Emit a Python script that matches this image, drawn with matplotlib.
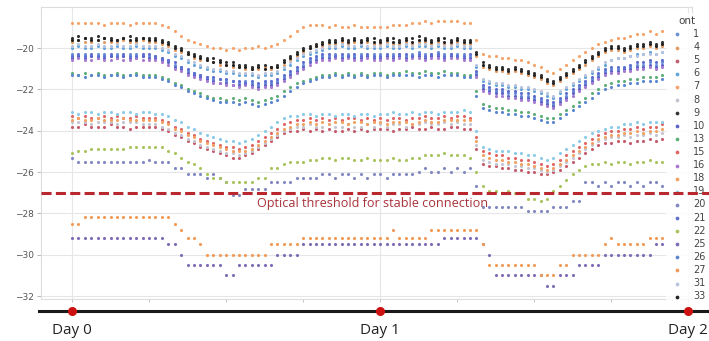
import numpy as np
import matplotlib
matplotlib.use("Agg")
import matplotlib.pyplot as plt
from matplotlib.lines import Line2D
import matplotlib.transforms as mtransforms

# ---------------- data (dBm, sampled every 30 min from Day 0) ----------------
HOURS = np.arange(0, 46.5, 0.5)

ont_1 = [-20.3,-20.4,-20.3,-20.4,-20.3,-20.3,-20.4,-20.3,-20.4,-20.3,-20.3,-20.4,
         -20.4,-20.4,-20.5,-20.6,-20.8,-20.9,-21.1,-21.2,-21.3,-21.4,-21.5,-21.5,
         -21.6,-21.6,-21.7,-21.6,-21.7,-21.8,-21.7,-21.7,-21.6,-21.4,-21.2,-21.0,
         -20.8,-20.6,-20.5,-20.4,-20.4,-20.3,-20.4,-20.3,-20.4,-20.3,-20.4,-20.3,
         -20.3,-20.4,-20.3,-20.3,-20.4,-20.3,-20.2,-20.3,-20.3,-20.2,-20.3,-20.3,
         -20.3,-20.3,-20.4,-21.2,-21.9,-22.0,-22.1,-22.1,-22.2,-22.2,-22.3,-22.3,
         -22.4,-22.5,-22.6,-22.7,-22.5,-22.3,-22.1,-21.9,-21.7,-21.5,-21.3,-21.1,
         -21.0,-21.0,-21.0,-20.9,-20.8,-20.8,-20.7,-20.8,-20.7]
ont_4 = [-19.7,-19.6,-19.7,-19.7,-19.6,-19.7,-19.7,-19.7,-19.6,-19.7,-19.7,-19.6,
         -19.7,-19.7,-19.8,-19.9,-20.1,-20.2,-20.3,-20.5,-20.6,-20.6,-20.7,-20.8,
         -20.8,-20.9,-20.9,-21.0,-21.0,-21.0,-20.9,-21.0,-20.9,-20.8,-20.6,-20.4,
         -20.2,-20.0,-19.9,-19.9,-19.8,-19.8,-19.7,-19.8,-19.7,-19.8,-19.7,-19.8,
         -19.8,-19.7,-19.8,-19.8,-19.7,-19.8,-19.7,-19.7,-19.8,-19.7,-19.8,-19.8,
         -19.7,-19.8,-19.8,-20.4,-20.9,-21.0,-21.1,-21.1,-21.2,-21.1,-21.2,-21.3,
         -21.4,-21.5,-21.7,-21.8,-21.6,-21.4,-21.2,-21.0,-20.8,-20.6,-20.4,-20.2,
         -20.1,-20.1,-20.2,-20.1,-20.0,-20.0,-19.9,-20.0,-19.9]
ont_5 = [-23.8,-23.8,-23.7,-23.8,-23.8,-23.8,-23.7,-23.8,-23.8,-23.9,-23.8,-23.8,
         -23.8,-23.8,-23.9,-24.0,-24.2,-24.3,-24.5,-24.6,-24.8,-24.9,-25.0,-25.1,
         -25.2,-25.3,-25.3,-25.2,-25.1,-24.9,-24.7,-24.5,-24.3,-24.1,-24.0,-24.0,
         -23.9,-24.0,-23.9,-24.0,-23.9,-24.0,-24.0,-23.9,-24.0,-23.9,-24.0,-23.9,
         -23.9,-23.9,-24.0,-23.9,-23.9,-23.8,-23.9,-23.9,-23.8,-23.9,-23.9,-23.8,
         -23.8,-23.9,-23.9,-24.9,-25.6,-25.7,-25.7,-25.8,-25.8,-25.9,-25.9,-26.0,
         -26.0,-26.1,-26.1,-26.0,-25.9,-25.7,-25.5,-25.3,-25.1,-24.9,-24.7,-24.6,
         -24.6,-24.5,-24.5,-24.6,-24.5,-24.5,-24.4,-24.5,-24.4]
ont_6 = [-20.0,-19.9,-20.0,-20.0,-19.9,-20.0,-20.0,-19.9,-20.0,-20.0,-19.9,-20.0,
         -20.0,-20.0,-20.1,-20.2,-20.4,-20.5,-20.7,-20.8,-20.9,-21.0,-21.1,-21.1,
         -21.2,-21.2,-21.3,-21.3,-21.3,-21.4,-21.3,-21.3,-21.2,-21.0,-20.8,-20.6,
         -20.4,-20.3,-20.2,-20.1,-20.0,-20.0,-19.9,-20.0,-20.0,-19.9,-20.0,-20.0,
         -20.0,-19.9,-20.0,-20.0,-19.9,-20.0,-19.9,-19.9,-20.0,-19.9,-20.0,-20.0,
         -19.9,-20.0,-20.0,-20.9,-21.6,-21.7,-21.8,-21.8,-21.9,-21.9,-22.0,-22.0,
         -22.1,-22.2,-22.3,-22.4,-22.2,-22.0,-21.8,-21.6,-21.4,-21.2,-21.0,-20.8,
         -20.6,-20.5,-20.5,-20.4,-20.3,-20.3,-20.2,-20.3,-20.2]
ont_7 = [-18.8,-18.8,-18.8,-18.8,-18.8,-18.9,-18.8,-18.8,-18.8,-18.9,-18.8,-18.8,
         -18.8,-18.8,-18.9,-19.0,-19.2,-19.4,-19.6,-19.7,-19.8,-19.9,-20.0,-20.0,
         -20.1,-20.0,-20.1,-20.0,-20.0,-19.9,-20.0,-19.9,-19.8,-19.6,-19.4,-19.2,
         -19.0,-18.9,-18.9,-18.9,-19.0,-18.9,-19.0,-19.0,-18.9,-19.0,-19.0,-19.0,
         -19.0,-19.0,-18.9,-18.9,-18.9,-18.8,-18.8,-18.7,-18.8,-18.7,-18.7,-18.7,
         -18.7,-18.8,-18.8,-19.6,-20.3,-20.4,-20.4,-20.5,-20.5,-20.6,-20.6,-20.7,
         -20.8,-20.9,-21.1,-21.2,-21.0,-20.8,-20.6,-20.4,-20.2,-20.0,-19.8,-19.7,
         -19.6,-19.5,-19.5,-19.4,-19.3,-19.3,-19.2,-19.3,-19.2]
ont_8 = [-23.6,-23.6,-23.6,-23.7,-23.6,-23.6,-23.6,-23.7,-23.6,-23.6,-23.6,-23.7,
         -23.7,-23.7,-23.8,-23.9,-24.1,-24.2,-24.4,-24.5,-24.7,-24.8,-24.9,-25.0,
         -25.1,-25.1,-25.2,-25.1,-25.0,-24.8,-24.6,-24.4,-24.2,-24.0,-23.9,-23.8,
         -23.8,-23.7,-23.8,-23.8,-23.7,-23.8,-23.8,-23.7,-23.8,-23.8,-23.7,-23.8,
         -23.7,-23.8,-23.7,-23.7,-23.8,-23.7,-23.7,-23.6,-23.7,-23.7,-23.6,-23.7,
         -23.6,-23.7,-23.7,-24.7,-25.4,-25.5,-25.6,-25.6,-25.6,-25.7,-25.7,-25.8,
         -25.8,-25.9,-26.0,-25.9,-25.7,-25.5,-25.3,-25.1,-24.9,-24.7,-24.5,-24.4,
         -24.3,-24.3,-24.2,-24.3,-24.2,-24.2,-24.1,-24.2,-24.1]
ont_9 = [-19.5,-19.4,-19.5,-19.5,-19.4,-19.5,-19.5,-19.6,-19.5,-19.4,-19.5,-19.5,
         -19.5,-19.5,-19.6,-19.7,-19.9,-20.0,-20.2,-20.3,-20.4,-20.5,-20.5,-20.6,
         -20.7,-20.7,-20.8,-20.8,-20.9,-20.8,-20.8,-20.9,-20.8,-20.6,-20.4,-20.2,
         -20.0,-19.9,-19.8,-19.7,-19.6,-19.6,-19.5,-19.6,-19.5,-19.6,-19.5,-19.5,
         -19.6,-19.5,-19.5,-19.6,-19.5,-19.5,-19.4,-19.5,-19.6,-19.5,-19.5,-19.6,
         -19.5,-19.6,-19.6,-20.2,-20.7,-20.8,-20.9,-20.9,-21.0,-20.9,-21.0,-21.1,
         -21.2,-21.3,-21.5,-21.6,-21.4,-21.2,-21.0,-20.8,-20.6,-20.4,-20.2,-20.0,
         -19.9,-19.9,-20.0,-19.9,-19.8,-19.8,-19.7,-19.8,-19.7]
ont_10 = [-20.5,-20.4,-20.5,-20.4,-20.5,-20.5,-20.4,-20.5,-20.4,-20.5,-20.5,-20.4,
          -20.5,-20.5,-20.6,-20.7,-20.9,-21.0,-21.2,-21.3,-21.4,-21.5,-21.6,-21.7,
          -21.7,-21.8,-21.8,-21.7,-21.8,-21.9,-21.8,-21.8,-21.7,-21.5,-21.3,-21.1,
          -20.9,-20.7,-20.6,-20.5,-20.5,-20.4,-20.5,-20.4,-20.5,-20.5,-20.4,-20.5,
          -20.5,-20.4,-20.5,-20.4,-20.5,-20.4,-20.4,-20.5,-20.4,-20.4,-20.5,-20.4,
          -20.4,-20.5,-20.5,-21.3,-22.0,-22.1,-22.2,-22.2,-22.3,-22.3,-22.4,-22.4,
          -22.5,-22.6,-22.7,-22.8,-22.6,-22.4,-22.2,-22.0,-21.8,-21.6,-21.4,-21.2,
          -21.1,-21.1,-21.0,-21.0,-20.9,-20.9,-20.8,-20.9,-20.8]
ont_13 = [-21.2,-21.3,-21.2,-21.3,-21.2,-21.3,-21.3,-21.2,-21.3,-21.3,-21.2,-21.3,
          -21.3,-21.3,-21.4,-21.5,-21.7,-21.8,-22.0,-22.1,-22.2,-22.3,-22.4,-22.4,
          -22.5,-22.4,-22.5,-22.4,-22.5,-22.6,-22.5,-22.4,-22.3,-22.1,-21.9,-21.7,
          -21.6,-21.5,-21.4,-21.3,-21.3,-21.2,-21.3,-21.2,-21.3,-21.2,-21.3,-21.2,
          -21.2,-21.3,-21.2,-21.2,-21.1,-21.2,-21.2,-21.1,-21.2,-21.2,-21.1,-21.2,
          -21.2,-21.3,-21.3,-22.1,-22.7,-22.8,-22.9,-22.9,-23.0,-23.0,-23.1,-23.1,
          -23.2,-23.3,-23.4,-23.4,-23.2,-23.0,-22.8,-22.6,-22.4,-22.2,-22.0,-21.8,
          -21.7,-21.6,-21.6,-21.5,-21.5,-21.4,-21.4,-21.4,-21.3]
ont_15 = [-23.3,-23.4,-23.3,-23.4,-23.4,-23.3,-23.4,-23.3,-23.4,-23.4,-23.3,-23.4,
          -23.4,-23.4,-23.5,-23.6,-23.8,-23.9,-24.1,-24.2,-24.4,-24.5,-24.6,-24.7,
          -24.8,-24.8,-24.9,-24.8,-24.7,-24.5,-24.3,-24.1,-23.9,-23.7,-23.6,-23.5,
          -23.5,-23.4,-23.5,-23.4,-23.5,-23.4,-23.5,-23.4,-23.4,-23.5,-23.4,-23.5,
          -23.4,-23.5,-23.4,-23.4,-23.5,-23.4,-23.4,-23.3,-23.4,-23.4,-23.3,-23.4,
          -23.3,-23.3,-23.4,-24.3,-25.0,-25.1,-25.2,-25.2,-25.3,-25.3,-25.4,-25.4,
          -25.5,-25.6,-25.7,-25.6,-25.4,-25.2,-25.0,-24.8,-24.6,-24.4,-24.2,-24.1,
          -24.0,-24.0,-23.9,-23.9,-23.8,-23.9,-23.8,-23.8,-23.7]
ont_16 = [-20.6,-20.5,-20.6,-20.6,-20.5,-20.6,-20.6,-20.5,-20.6,-20.6,-20.5,-20.6,
          -20.6,-20.6,-20.7,-20.8,-21.0,-21.1,-21.3,-21.4,-21.5,-21.6,-21.7,-21.7,
          -21.8,-21.8,-21.9,-21.8,-21.9,-22.0,-21.9,-21.9,-21.8,-21.6,-21.4,-21.2,
          -21.0,-20.8,-20.7,-20.6,-20.6,-20.5,-20.6,-20.5,-20.6,-20.6,-20.5,-20.6,
          -20.6,-20.5,-20.6,-20.5,-20.6,-20.5,-20.5,-20.6,-20.5,-20.5,-20.6,-20.5,
          -20.5,-20.6,-20.6,-21.4,-22.1,-22.2,-22.3,-22.3,-22.4,-22.4,-22.5,-22.5,
          -22.6,-22.7,-22.8,-22.9,-22.7,-22.5,-22.3,-22.1,-21.9,-21.7,-21.5,-21.3,
          -21.2,-21.2,-21.1,-21.1,-21.0,-21.0,-20.9,-21.0,-20.9]
ont_18 = [-23.5,-23.4,-23.5,-23.5,-23.4,-23.5,-23.5,-23.5,-23.4,-23.5,-23.5,-23.5,
          -23.5,-23.5,-23.6,-23.7,-23.9,-24.0,-24.2,-24.3,-24.5,-24.6,-24.7,-24.8,
          -24.9,-25.0,-25.0,-25.0,-24.9,-24.7,-24.5,-24.3,-24.1,-23.9,-23.8,-23.7,
          -23.7,-23.6,-23.7,-23.6,-23.7,-23.6,-23.6,-23.7,-23.6,-23.6,-23.7,-23.6,
          -23.6,-23.7,-23.6,-23.6,-23.6,-23.7,-23.6,-23.5,-23.6,-23.6,-23.5,-23.5,
          -23.5,-23.5,-23.5,-24.5,-25.2,-25.3,-25.4,-25.4,-25.5,-25.5,-25.6,-25.6,
          -25.7,-25.8,-25.9,-25.8,-25.6,-25.4,-25.2,-25.0,-24.8,-24.6,-24.4,-24.3,
          -24.2,-24.2,-24.1,-24.1,-24.0,-24.1,-24.0,-24.0,-23.9]
ont_19 = [-23.1,-23.2,-23.1,-23.1,-23.2,-23.1,-23.1,-23.2,-23.1,-23.1,-23.2,-23.1,
          -23.1,-23.2,-23.2,-23.3,-23.5,-23.6,-23.8,-23.9,-24.1,-24.2,-24.3,-24.4,
          -24.5,-24.5,-24.6,-24.5,-24.4,-24.2,-24.0,-23.8,-23.6,-23.4,-23.3,-23.3,
          -23.2,-23.2,-23.3,-23.2,-23.2,-23.3,-23.2,-23.2,-23.3,-23.2,-23.2,-23.3,
          -23.2,-23.2,-23.1,-23.2,-23.2,-23.1,-23.2,-23.1,-23.1,-23.2,-23.1,-23.1,
          -23.1,-23.0,-23.1,-24.0,-24.8,-24.9,-25.0,-25.0,-25.0,-25.1,-25.1,-25.2,
          -25.2,-25.3,-25.4,-25.3,-25.1,-24.9,-24.7,-24.5,-24.3,-24.1,-24.0,-23.9,
          -23.8,-23.8,-23.7,-23.7,-23.6,-23.7,-23.6,-23.6,-23.6]
ont_20 = [-25.3,-25.5,-25.5,-25.5,-25.5,-25.5,-25.5,-25.5,-25.5,-25.5,-25.5,-25.5,
          -25.4,-25.5,-25.5,-25.5,-25.8,-25.8,-26.1,-26.1,-26.1,-26.3,-26.1,-26.3,
          -26.5,-27.1,-27.1,-26.8,-26.8,-26.8,-26.8,-26.5,-26.5,-26.5,-26.5,-26.3,
          -26.3,-26.3,-26.3,-26.1,-26.1,-26.3,-26.1,-26.1,-26.3,-26.1,-26.3,-26.1,
          -26.1,-26.3,-26.1,-26.1,-26.1,-26.1,-26.0,-25.8,-26.0,-26.0,-25.8,-26.0,
          -25.8,-26.0,-25.8,-26.7,-27.7,-27.7,-27.7,-27.7,-27.7,-27.7,-27.7,-27.9,
          -27.9,-27.9,-27.9,-27.7,-27.7,-27.7,-27.4,-27.4,-26.5,-26.5,-26.7,-26.5,
          -26.7,-26.5,-26.5,-26.7,-26.5,-26.7,-26.5,-26.5,-26.7]
ont_21 = [-20.4,-20.3,-20.4,-20.3,-20.4,-20.4,-20.3,-20.4,-20.3,-20.4,-20.4,-20.3,
          -20.3,-20.4,-20.5,-20.6,-20.7,-20.9,-21.0,-21.2,-21.3,-21.4,-21.4,-21.5,
          -21.5,-21.6,-21.6,-21.7,-21.6,-21.7,-21.6,-21.6,-21.5,-21.3,-21.1,-20.9,
          -20.7,-20.5,-20.4,-20.3,-20.3,-20.4,-20.3,-20.4,-20.3,-20.4,-20.3,-20.4,
          -20.4,-20.3,-20.4,-20.3,-20.3,-20.4,-20.3,-20.4,-20.3,-20.3,-20.4,-20.3,
          -20.4,-20.4,-20.3,-21.1,-21.8,-21.9,-22.0,-22.0,-22.1,-22.1,-22.2,-22.2,
          -22.3,-22.4,-22.5,-22.6,-22.4,-22.2,-22.0,-21.8,-21.6,-21.4,-21.2,-21.0,
          -20.9,-20.9,-20.9,-20.8,-20.7,-20.7,-20.6,-20.7,-20.6]
ont_22 = [-25.1,-25.0,-25.0,-24.9,-24.9,-24.9,-24.9,-24.9,-24.9,-24.8,-24.8,-24.8,
          -24.8,-24.8,-24.8,-25.0,-25.1,-25.3,-25.5,-25.6,-25.8,-26.1,-26.3,-26.3,
          -26.5,-26.5,-26.5,-26.5,-26.5,-26.3,-26.3,-25.8,-25.8,-25.6,-25.5,-25.5,
          -25.5,-25.4,-25.4,-25.3,-25.3,-25.4,-25.3,-25.3,-25.4,-25.4,-25.3,-25.4,
          -25.4,-25.4,-25.3,-25.4,-25.4,-25.3,-25.3,-25.2,-25.2,-25.2,-25.1,-25.2,
          -25.2,-25.2,-25.3,-26.0,-26.7,-26.9,-26.9,-27.0,-26.9,-27.0,-27.0,-27.3,
          -27.3,-27.4,-27.3,-26.9,-26.7,-26.4,-26.1,-25.9,-25.7,-25.6,-25.6,-25.5,
          -25.6,-25.5,-25.5,-25.6,-25.5,-25.5,-25.4,-25.5,-25.5]
ont_25 = [-29.2,-29.2,-29.2,-29.2,-29.2,-29.2,-29.2,-29.2,-29.2,-29.2,-29.2,-29.2,
          -29.2,-29.2,-29.2,-29.5,-29.5,-30.0,-30.5,-30.5,-30.5,-30.5,-30.5,-30.5,
          -31.0,-31.0,-30.5,-30.5,-30.5,-30.5,-30.5,-30.5,-30.0,-30.0,-30.0,-30.0,
          -29.5,-29.5,-29.5,-29.5,-29.5,-29.5,-29.5,-29.5,-29.5,-29.5,-29.5,-29.5,
          -29.5,-29.5,-29.5,-29.5,-29.5,-29.5,-29.5,-29.5,-29.5,-29.5,-29.2,-29.2,
          -29.2,-29.2,-29.2,-29.2,-29.5,-30.0,-31.0,-31.0,-31.0,-31.0,-31.0,-31.0,
          -31.0,-31.0,-31.5,-31.5,-31.0,-31.0,-31.0,-30.5,-30.5,-30.5,-30.5,-30.0,
          -30.0,-30.0,-30.0,-30.0,-30.0,-30.0,-30.0,-29.5,-29.5]
ont_26 = [-21.3,-21.3,-21.4,-21.3,-21.3,-21.4,-21.3,-21.3,-21.4,-21.3,-21.3,-21.4,
          -21.4,-21.4,-21.5,-21.6,-21.8,-21.9,-22.1,-22.2,-22.3,-22.4,-22.5,-22.6,
          -22.6,-22.6,-22.7,-22.6,-22.7,-22.8,-22.7,-22.6,-22.5,-22.3,-22.1,-21.9,
          -21.7,-21.6,-21.5,-21.4,-21.4,-21.3,-21.4,-21.3,-21.4,-21.3,-21.4,-21.3,
          -21.3,-21.4,-21.3,-21.3,-21.3,-21.3,-21.4,-21.3,-21.3,-21.4,-21.3,-21.3,
          -21.3,-21.4,-21.4,-22.3,-22.9,-23.0,-23.1,-23.1,-23.2,-23.2,-23.3,-23.3,
          -23.4,-23.5,-23.6,-23.6,-23.4,-23.2,-23.0,-22.8,-22.6,-22.4,-22.2,-22.0,
          -21.9,-21.8,-21.8,-21.7,-21.7,-21.6,-21.6,-21.6,-21.5]
ont_27 = [-28.5,-28.5,-28.2,-28.2,-28.2,-28.2,-28.2,-28.2,-28.2,-28.2,-28.2,-28.2,
          -28.2,-28.2,-28.2,-28.2,-28.5,-28.8,-29.2,-29.2,-29.5,-30.0,-30.0,-30.0,
          -30.0,-30.0,-30.0,-30.0,-30.0,-30.0,-30.0,-29.5,-29.5,-29.5,-29.5,-29.5,
          -29.2,-29.2,-29.2,-29.2,-29.2,-29.2,-29.2,-29.2,-29.2,-29.2,-29.2,-29.2,
          -29.2,-29.2,-28.8,-29.2,-29.2,-29.2,-29.2,-29.2,-28.8,-28.8,-28.8,-28.8,
          -28.8,-28.8,-28.8,-28.8,-29.5,-30.5,-30.5,-30.5,-30.5,-30.5,-30.5,-30.5,
          -30.5,-31.0,-31.0,-31.0,-30.5,-30.5,-30.0,-30.0,-30.0,-30.0,-30.0,-29.5,
          -29.2,-29.5,-29.5,-29.5,-29.5,-29.5,-29.2,-29.2,-29.2]
ont_31 = [-19.9,-19.8,-19.9,-19.9,-19.8,-19.9,-19.9,-19.8,-19.9,-19.9,-19.8,-19.9,
          -19.9,-19.9,-20.0,-20.1,-20.3,-20.4,-20.6,-20.7,-20.8,-20.9,-21.0,-21.0,
          -21.1,-21.1,-21.2,-21.2,-21.2,-21.3,-21.2,-21.2,-21.1,-20.9,-20.7,-20.5,
          -20.3,-20.2,-20.1,-20.0,-19.9,-19.9,-19.8,-19.9,-19.9,-19.8,-19.9,-19.9,
          -19.9,-19.8,-19.9,-19.9,-19.8,-19.9,-19.8,-19.8,-19.9,-19.8,-19.9,-19.9,
          -19.8,-19.9,-19.9,-20.8,-21.5,-21.6,-21.7,-21.7,-21.8,-21.8,-21.9,-21.9,
          -22.0,-22.1,-22.2,-22.3,-22.1,-21.9,-21.7,-21.5,-21.3,-21.1,-20.9,-20.7,
          -20.6,-20.5,-20.5,-20.4,-20.4,-20.3,-20.3,-20.3,-20.2]
ont_33 = [-19.6,-19.6,-19.5,-19.6,-19.6,-19.5,-19.6,-19.6,-19.5,-19.6,-19.6,-19.5,
          -19.6,-19.6,-19.7,-19.8,-20.0,-20.1,-20.3,-20.4,-20.5,-20.6,-20.7,-20.7,
          -20.8,-20.8,-20.9,-20.9,-21.0,-20.9,-21.0,-20.9,-20.9,-20.7,-20.5,-20.3,
          -20.1,-20.0,-19.9,-19.8,-19.7,-19.7,-19.6,-19.7,-19.6,-19.7,-19.6,-19.7,
          -19.7,-19.6,-19.7,-19.7,-19.6,-19.7,-19.6,-19.6,-19.7,-19.6,-19.7,-19.7,
          -19.6,-19.7,-19.7,-20.3,-20.8,-20.9,-21.0,-21.0,-21.1,-21.0,-21.1,-21.2,
          -21.3,-21.4,-21.6,-21.7,-21.5,-21.3,-21.1,-20.9,-20.7,-20.5,-20.3,-20.1,
          -20.0,-20.0,-20.1,-20.0,-19.9,-19.9,-19.8,-19.9,-19.8]

ONT_IDS = ["1", "4", "5", "6", "7", "8", "9", "10", "13", "15", "16",
           "18", "19", "20", "21", "22", "25", "26", "27", "31", "33"]
ONT_VALUES = [ont_1, ont_4, ont_5, ont_6, ont_7, ont_8, ont_9, ont_10, ont_13,
              ont_15, ont_16, ont_18, ont_19, ont_20, ont_21, ont_22, ont_25,
              ont_26, ont_27, ont_31, ont_33]

THRESHOLD = -27
THRESHOLD_LABEL = "Optical threshold for stable connection"
DAY_HOURS = [0, 24, 48]
DAY_LABELS = ["Day 0", "Day 1", "Day 2"]
Y_TICKS = [-32, -30, -28, -26, -24, -22, -20]

# ---------------- styles ----------------
COLORS = {"1": "#6b8fd6", "4": "#e39a63", "5": "#c65b6c", "6": "#63a4d8",
          "7": "#f5a26b", "8": "#c4c4d0", "9": "#333333", "10": "#5b63c4",
          "13": "#5fae7a", "15": "#e06666", "16": "#a77bd1", "18": "#f2a161",
          "19": "#8ccbe8", "20": "#8187c0", "21": "#5e6fcf", "22": "#a9c45e",
          "25": "#7d6bb5", "26": "#5a86cf", "27": "#f29a55", "31": "#b7c3dd",
          "33": "#222222"}

W, H = 709, 341
fig = plt.figure(figsize=(W / 100, H / 100), dpi=100)
ax = fig.add_axes([41 / W, 42 / H, 651 / W, 292 / H])

for oid, vals in zip(ONT_IDS, ONT_VALUES):
    assert len(vals) == len(HOURS), (oid, len(vals))
    ax.scatter(HOURS, vals, s=5, color=COLORS[oid], linewidths=0, label=oid, zorder=3)

ax.set_xlim(-2.42, 48.3)
ax.set_ylim(-32.145, -18.016)
ax.set_yticks(Y_TICKS)
ax.set_xticks(DAY_HOURS)
ax.set_xticks(np.arange(0, 49, 6), minor=True)
ax.set_xticklabels([])
ax.grid(True, which="major", color="#e6e6e6", linewidth=0.8)
ax.set_axisbelow(True)
for sp in ax.spines.values():
    sp.set_color("#dddddd")
    sp.set_linewidth(0.8)
ax.tick_params(axis="y", length=3, width=0.6, color="#aaaaaa", labelsize=6.5,
               labelcolor="#555555", pad=2)
ax.tick_params(axis="x", which="both", length=2, width=0.6, color="#bbbbbb")

# threshold text
ax.text(23.4, -27.5, THRESHOLD_LABEL, ha="center", va="center", color="#a8323a",
        fontsize=9.1, family="Open Sans", zorder=4)

# legend
leg = ax.legend(title="ont", loc="upper left", bbox_to_anchor=(666 / W, 1 - 13 / H),
                bbox_transform=fig.transFigure, fontsize=7, title_fontsize=7.5,
                labelspacing=0.32, handlelength=1.6, handletextpad=0.9,
                borderpad=0.3, borderaxespad=0, frameon=True, markerscale=1.2)
leg.get_frame().set_facecolor("white")
leg.get_frame().set_edgecolor("none")
leg.get_frame().set_alpha(0.85)
for t in leg.get_texts():
    t.set_color("#444444")
leg.get_title().set_color("#444444")

# threshold dashed line across to the figure edge (drawn over legend)
blend_fy = mtransforms.blended_transform_factory(fig.transFigure, ax.transData)
fig.add_artist(Line2D([41 / W, 1.0], [THRESHOLD, THRESHOLD], transform=blend_fy,
                      color="#b8282e", linewidth=2.2, dashes=(3.3, 1.4), zorder=10))

# timeline below the plot
tl_y = 1 - 311 / H
fig.add_artist(Line2D([39 / W, 1.0], [tl_y, tl_y], transform=fig.transFigure,
                      color="#1a1a1a", linewidth=2.2, zorder=10))
blend_dx = mtransforms.blended_transform_factory(ax.transData, fig.transFigure)
fig.add_artist(Line2D(DAY_HOURS, [tl_y] * len(DAY_HOURS), transform=blend_dx,
                      linestyle="none", marker="o", markersize=5.5,
                      color="#cc1010", zorder=11))
for h, lab in zip(DAY_HOURS, DAY_LABELS):
    fig.text(h, 1 - 330 / H, lab, transform=blend_dx, ha="center", va="center",
             fontsize=11, family="Open Sans", color="#222222")

fig.savefig("out.png", dpi=100)
